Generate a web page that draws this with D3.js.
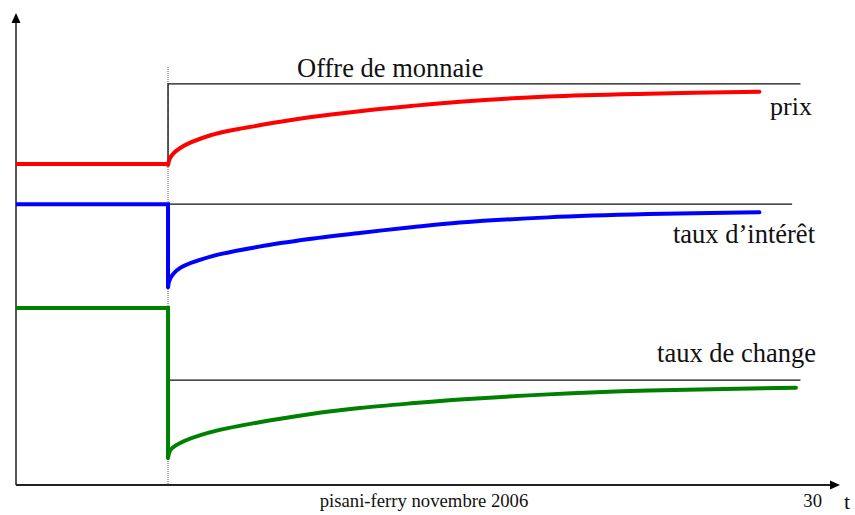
<!DOCTYPE html>
<html>
<head>
<meta charset="utf-8">
<script src="https://cdn.jsdelivr.net/npm/d3@7"></script>
<style>
  body { margin: 0; background: #fff; }
  svg { display: block; }
</style>
</head>
<body>
<div id="chart"></div>
<script>
// time steps (shock at t = 0)
const tBefore = [-10, 0]
const tAfter = [0, 0.15, 0.8, 2.8, 6, 9.3, 12.6, 16, 19.2, 25, 31.6, 38.9]
const tAfterGreen = [0, 0.15, 0.8, 2.8, 6, 9.3, 12.6, 16, 19.2, 25, 31.6, 41.3]

// levels before the shock
const prixBefore = 68.0
const tauxBefore = 59.5
const changeBefore = 37.5

// paths after the shock
const prixAfter = [67.8, 69.4, 71.4, 74.1, 76.2, 77.9, 79.2, 80.3, 81.2, 82.3, 82.9, 83.3]
const tauxAfter = [41.9, 43.8, 46.0, 48.4, 50.5, 52.1, 53.4, 54.6, 55.6, 56.7, 57.4, 57.8]
const changeAfter = [5.7, 7.4, 8.9, 11.2, 13.3, 15.0, 16.3, 17.3, 18.1, 19.2, 20.0, 20.6]

// long-run reference levels (thin black lines)
const offreLevel = 85.0
const tauxLong = 59.5
const changeLong = 22.2
const refEnd = [41.6, 41.05, 41.6]

const labels = ["Offre de monnaie", "prix", "taux d\u2019intérêt", "taux de change"]
const footer = "pisani-ferry novembre 2006"
const pageNo = "30"

const width = 855, height = 515
const serif = "'Liberation Serif', 'Times New Roman', Times, 'DejaVu Serif', serif"

const svg = d3.select("#chart").append("svg")
  .attr("width", width)
  .attr("height", height)
  .style("font-family", serif)

const x = d3.scaleLinear().domain([-10, 44.2]).range([16, 840])
const y = d3.scaleLinear().domain([0, 100]).range([485, 13])

// dotted shock marker
svg.append("line")
  .attr("x1", x(0)).attr("x2", x(0))
  .attr("y1", 67).attr("y2", y(0))
  .attr("stroke", "#999")
  .attr("stroke-width", 1.5)
  .attr("stroke-dasharray", "1,1")

// axes
svg.append("line")
  .attr("x1", x(-10)).attr("x2", x(-10))
  .attr("y1", y(0)).attr("y2", y(100) + 6)
  .attr("stroke", "#555").attr("stroke-width", 2)
svg.append("path")
  .attr("d", `M${x(-10)},${y(100)} l-4.5,10 l9,0 Z`)
  .attr("fill", "#000")
svg.append("line")
  .attr("x1", x(-10)).attr("x2", x(44.2) - 6)
  .attr("y1", y(0)).attr("y2", y(0))
  .attr("stroke", "#222").attr("stroke-width", 2)
svg.append("path")
  .attr("d", `M${x(44.2)},${y(0)} l-10,-4.5 l0,9 Z`)
  .attr("fill", "#000")

const line = d3.line()
  .x(d => x(d[0]))
  .y(d => y(d[1]))

// reference lines
const refs = [
  [[0, prixBefore], [0, offreLevel], [refEnd[0], offreLevel]],
  [[0, tauxLong], [refEnd[1], tauxLong]],
  [[0, changeLong], [refEnd[2], changeLong]]
]
svg.selectAll("path.ref").data(refs).enter()
  .append("path")
  .attr("class", "ref")
  .attr("d", line)
  .attr("fill", "none")
  .attr("stroke", "#111")
  .attr("stroke-width", 1.3)

// series
const series = [
  { color: "#ff0000", before: prixBefore, t: tAfter, v: prixAfter },
  { color: "#0000ff", before: tauxBefore, t: tAfter, v: tauxAfter },
  { color: "#008000", before: changeBefore, t: tAfterGreen, v: changeAfter }
]

const curve = d3.line()
  .x(d => x(d[0]))
  .y(d => y(d[1]))
  .curve(d3.curveCatmullRom.alpha(0.5))

series.forEach(s => {
  const pre = tBefore.map(t => [t, s.before])
  const post = s.t.map((t, i) => [t, s.v[i]])
  const g = svg.append("g")
  g.append("path")
    .attr("d", line(pre.concat([[0, s.v[0]]])))
    .attr("fill", "none")
    .attr("stroke", s.color)
    .attr("stroke-width", 4)
  g.append("path")
    .attr("d", curve(post))
    .attr("fill", "none")
    .attr("stroke", s.color)
    .attr("stroke-width", 4)
    .attr("stroke-linecap", "round")
})

// labels
const txt = (tx, ty, size, anchor, s) => svg.append("text")
  .attr("x", tx).attr("y", ty)
  .attr("font-family", serif)
  .attr("font-size", size)
  .attr("text-anchor", anchor)
  .attr("fill", "#111")
  .text(s)

txt(297, 77, 26.5, "start", labels[0])
txt(812, 115, 26, "end", labels[1])
txt(815, 243, 26.5, "end", labels[2])
txt(816, 362, 26.5, "end", labels[3])

txt(424, 507, 18.7, "middle", footer)
txt(822, 507, 18.7, "end", pageNo)
txt(844, 509, 22, "start", "t")
</script>
</body>
</html>
